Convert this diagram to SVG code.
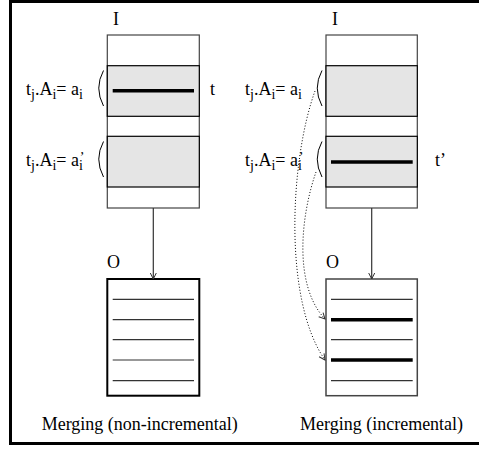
<svg xmlns="http://www.w3.org/2000/svg" width="479" height="452" viewBox="0 0 479 452">
<style>
text{font-family:"Liberation Serif","Times New Roman",serif;font-size:18px;fill:#000}
.sub{font-size:14px}
.box{fill:#fff;stroke:#444;stroke-width:1.2}
.band{fill:#e5e5e5;stroke:#000;stroke-width:1.2}
.thin{stroke:#333;stroke-width:1.2}
.thick{stroke:#000;stroke-width:3.5}
.paren{fill:none;stroke:#000;stroke-width:1}
.conn{stroke:#333;stroke-width:1.2;fill:none}
.dot{stroke:#000;stroke-width:1;stroke-dasharray:1 2;fill:none}
</style>
<defs>
<marker id="ah" markerWidth="8" markerHeight="8" refX="7" refY="4" orient="auto" markerUnits="userSpaceOnUse">
<path d="M1,1 L7,4 L1,7" fill="none" stroke="#333" stroke-width="1"/>
</marker>
</defs>
<path d="M479,1.5 H10.5 V443.5 H479" fill="none" stroke="#000" stroke-width="3"/>

<g id="left-input">
<text x="113" y="25">I</text>
<rect class="box" x="107.3" y="35" width="92" height="173"/>
<rect class="band" x="107.3" y="65.7" width="92" height="50.6"/>
<rect class="band" x="107.3" y="136.3" width="92" height="50.7"/>
<line class="thick" x1="112.7" y1="90.7" x2="194" y2="90.7"/>
<text x="210" y="95">t</text>
<text x="26" y="95">t<tspan class="sub" dy="4">j</tspan><tspan dy="-4">.A</tspan><tspan class="sub" dy="4">i</tspan><tspan dy="-4">= a</tspan><tspan class="sub" dy="4">i</tspan></text>
<text x="26" y="166">t<tspan class="sub" dy="4">j</tspan><tspan dy="-4">.A</tspan><tspan class="sub" dy="4">i</tspan><tspan dy="-4">= a</tspan><tspan class="sub" dy="4">i</tspan><tspan class="sub" dx="-3" dy="-8">’</tspan></text>
<path class="paren" d="M103.5,70.5 Q94,88 103.5,106"/>
<path class="paren" d="M103.5,141.5 Q94,159 103.5,177"/>
</g>

<g id="left-output">
<text x="107" y="268">O</text>
<rect x="107.3" y="279" width="92" height="116.7" fill="#fff" stroke="#000" stroke-width="2"/>
<line class="thin" x1="112.7" y1="299.3" x2="194" y2="299.3"/>
<line class="thin" x1="112.7" y1="319.7" x2="194" y2="319.7"/>
<line class="thin" x1="112.7" y1="339.7" x2="194" y2="339.7"/>
<line class="thin" x1="112.7" y1="360" x2="194" y2="360"/>
<line class="thin" x1="112.7" y1="380.7" x2="194" y2="380.7"/>
<text x="41.7" y="430">Merging (non-incremental)</text>
</g>

<g id="right-input">
<text x="332" y="25">I</text>
<rect class="box" x="326" y="35" width="91.3" height="173"/>
<rect class="band" x="326" y="65.7" width="91.3" height="50.6"/>
<rect class="band" x="326" y="136.3" width="91.3" height="50.7"/>
<line class="thick" x1="331" y1="162" x2="412.7" y2="162"/>
<text x="435" y="166">t’</text>
<text x="245" y="95">t<tspan class="sub" dy="4">j</tspan><tspan dy="-4">.A</tspan><tspan class="sub" dy="4">i</tspan><tspan dy="-4">= a</tspan><tspan class="sub" dy="4">i</tspan></text>
<text x="245" y="166">t<tspan class="sub" dy="4">j</tspan><tspan dy="-4">.A</tspan><tspan class="sub" dy="4">i</tspan><tspan dy="-4">= a</tspan><tspan class="sub" dy="4">i</tspan><tspan class="sub" dx="-3" dy="-8">’</tspan></text>
<path class="paren" d="M322,70.5 Q312.5,88 322,106"/>
<path class="paren" d="M322,141.5 Q312.5,159 322,177"/>
</g>

<g id="right-output">
<text x="326" y="268">O</text>
<rect x="326" y="279" width="91.3" height="116.7" fill="#fff" stroke="#444" stroke-width="1.5"/>
<line class="thin" x1="331" y1="299.3" x2="412.7" y2="299.3"/>
<line class="thick" x1="331" y1="319.7" x2="412.7" y2="319.7"/>
<line class="thin" x1="331" y1="339.7" x2="412.7" y2="339.7"/>
<line class="thick" x1="331" y1="360" x2="412.7" y2="360"/>
<line class="thin" x1="331" y1="380.7" x2="412.7" y2="380.7"/>
<text x="300" y="430">Merging (incremental)</text>
</g>

<g id="connectors">
<line class="conn" x1="153.3" y1="208" x2="153.3" y2="279" marker-end="url(#ah)"/>
<line class="conn" x1="371.7" y1="208" x2="371.7" y2="279" marker-end="url(#ah)"/>
<path class="dot" d="M315,91 C290,160 283,300 325,360" marker-end="url(#ah)"/>
<path class="dot" d="M316,172 C301,215 293,285 325,319" marker-end="url(#ah)"/>
</g>
</svg>
